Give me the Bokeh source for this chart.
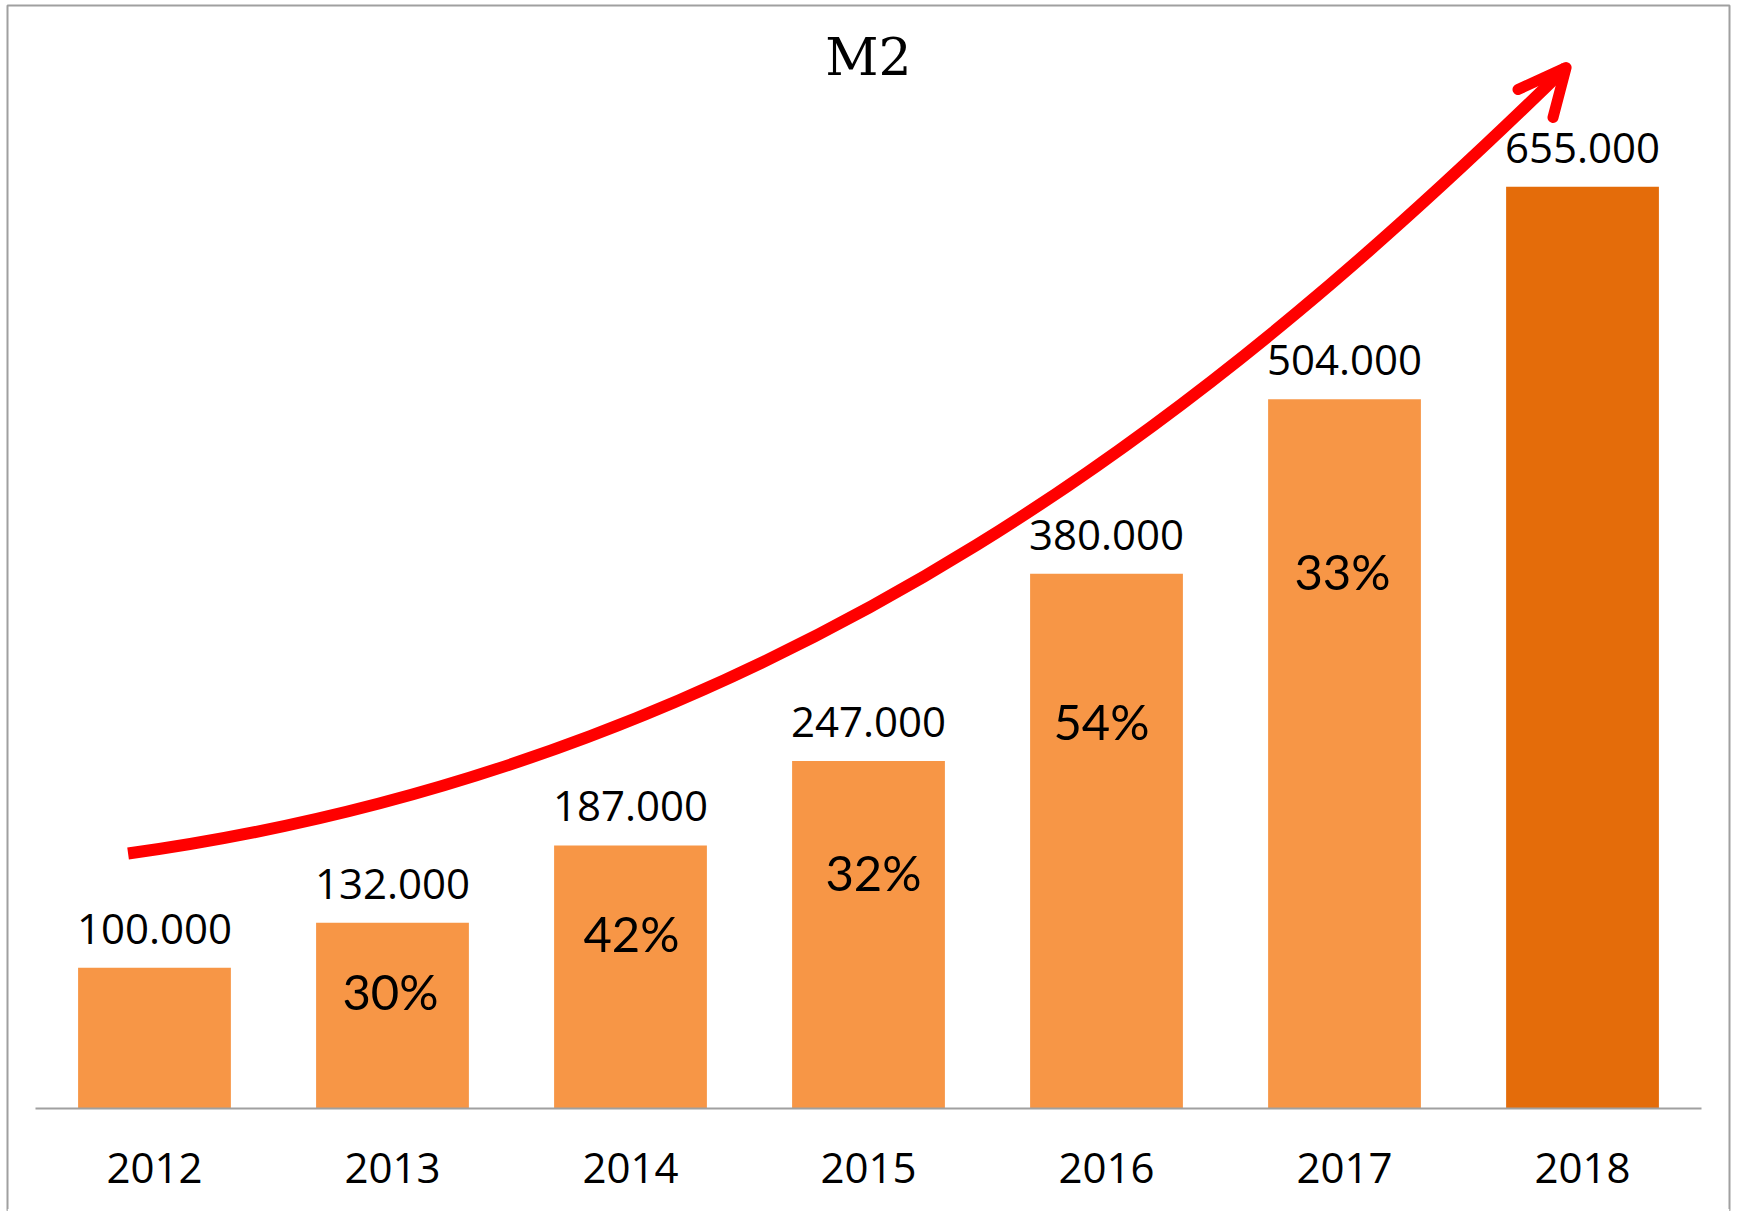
from bokeh.plotting import figure
from bokeh.models import FactorRange, Range1d, ColumnDataSource, Span
from bokeh.core.properties import value
from bokeh.embed import file_html
from bokeh.resources import INLINE

# ---------------- data ----------------
years = ["2012", "2013", "2014", "2015", "2016", "2017", "2018"]
m2 = [100000, 132000, 187000, 247000, 380000, 504000, 655000]
value_labels = ["100.000", "132.000", "187.000", "247.000", "380.000", "504.000", "655.000"]
growth_years = ["2013", "2014", "2015", "2016", "2017"]
growth_labels = ["30%", "42%", "32%", "54%", "33%"]
title_text = "M2"

# ---------------- styling ----------------
W, H = 1737, 1211
LIGHT = "#F79646"
DARK = "#E46C0A"
GRAY = "#A0A0A0"
Y_START, Y_END = -73200, 783900

# vertical anchor (data units) of the growth labels inside the bars, and small pixel nudges
growth_label_y = [83600, 124800, 168100, 275300, 381900]
growth_label_dx = [-2, 1, 5, -5, -2]

# hand-drawn red arrow (synthetic x of the categorical axis, y in data units)
arrow_p0 = (0.389, 181200)
arrow_c0 = (3.212, 247300)
arrow_c1 = (5.061, 513800)
arrow_tip = (6.431, 739800)
arrow_arm1 = (6.229, 724200)
arrow_arm2 = (6.376, 704300)

p = figure(
    x_range=FactorRange(factors=years, range_padding=0.0336, range_padding_units="percent"),
    y_range=Range1d(Y_START, Y_END),
    width=W, height=H,
    output_backend="svg", toolbar_location=None,
    y_axis_location=None,
    min_border_left=7, min_border_right=8, min_border_top=5, min_border_bottom=0,
)
p.xgrid.visible = False
p.ygrid.visible = False
p.outline_line_color = GRAY
p.outline_line_width = 2
p.background_fill_color = "white"
p.border_fill_color = "white"

colors = [DARK if y == years[-1] else LIGHT for y in years]
src = ColumnDataSource(dict(year=years, m2=m2, label=value_labels, color=colors))

p.vbar(x="year", top="m2", width=0.642, source=src, fill_color="color", line_color=None)

# baseline across the categories
p.segment(x0=[(years[0], -0.5)], y0=[0], x1=[(years[-1], 0.5)], y1=[0],
          line_color=GRAY, line_width=2)

# value labels above bars
p.text(x="year", y="m2", text="label", source=src, text_align="center",
       text_baseline="alphabetic", y_offset=-39,
       text_font=value("Open Sans"), text_font_size="42px", text_color="black")

# growth labels inside bars
p.text(x=growth_years, y=growth_label_y, text=growth_labels, x_offset=growth_label_dx,
       text_align="center", text_baseline="alphabetic",
       text_font=value("Lato"), text_font_size="49px", text_color="black")

# title
p.text(x=[years[len(years) // 2]], y=[747500], text=[title_text], text_align="center",
       text_baseline="alphabetic", text_font=value("DejaVu Serif"),
       text_font_size="52px", text_color="black")

# arrow
p.bezier(x0=[arrow_p0[0]], y0=[arrow_p0[1]], x1=[arrow_tip[0]], y1=[arrow_tip[1]],
         cx0=[arrow_c0[0]], cy0=[arrow_c0[1]], cx1=[arrow_c1[0]], cy1=[arrow_c1[1]],
         line_color="#FF0000", line_width=12)
p.line(x=[arrow_arm1[0], arrow_tip[0], arrow_arm2[0]],
       y=[arrow_arm1[1], arrow_tip[1], arrow_arm2[1]],
       line_color="#FF0000", line_width=11, line_cap="round", line_join="round")

# the picture is cut off at the bottom: hide the bottom edge of the frame outline
p.add_layout(Span(location=Y_START, dimension="width", line_color="white",
                  line_width=5, level="overlay"))

# category axis sitting on the baseline
ax = p.xaxis[0]
ax.fixed_location = 0
ax.axis_line_color = None
ax.major_tick_line_color = None
ax.minor_tick_line_color = None
ax.major_label_standoff = 38
ax.major_label_text_font = "Open Sans"
ax.major_label_text_font_size = "42px"
ax.major_label_text_color = "black"

open("out.html", "w").write(file_html(p, INLINE))
